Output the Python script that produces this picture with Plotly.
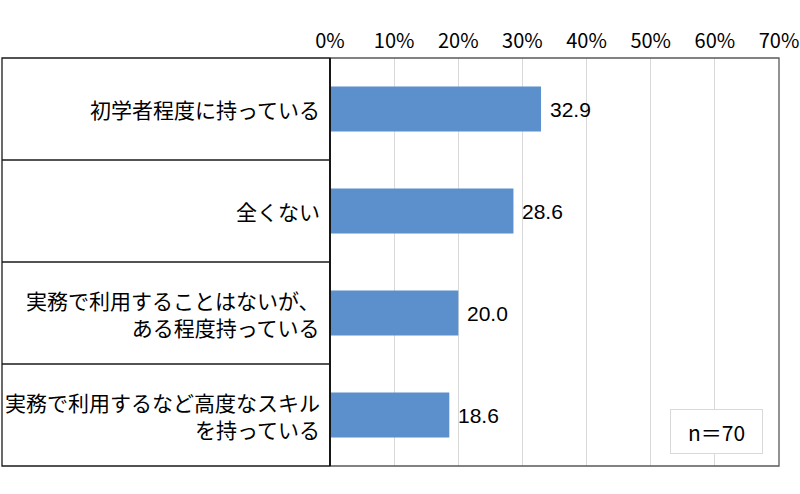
import plotly.graph_objects as go

categories = [
    "初学者程度に持っている",
    "全くない",
    "実務で利用することはないが、<br>ある程度持っている",
    "実務で利用するなど高度なスキル<br>を持っている",
]
values = [32.9, 28.6, 20.0, 18.6]
tick_vals = [0, 10, 20, 30, 40, 50, 60, 70]
tick_text = ["0%", "10%", "20%", "30%", "40%", "50%", "60%", "70%"]
note = "n＝70"

BAR = "#5B90CD"
JP = "Noto Sans CJK JP"

fig = go.Figure()
fig.add_trace(go.Bar(
    x=values, y=categories, orientation="h",
    marker=dict(color=BAR, line=dict(width=0)),
    width=0.44, hoverinfo="skip",
))

annotations = []
for c, v in zip(categories, values):
    annotations.append(dict(
        x=v, y=c, xref="x", yref="y", text=f"{v:.1f}", showarrow=False,
        xanchor="left", yanchor="middle", xshift=7,
        font=dict(family="Liberation Sans, Arial", size=21, color="#000000"),
    ))
    annotations.append(dict(
        x=0, y=c, xref="paper", yref="y", text=c, showarrow=False,
        xanchor="right", yanchor="middle", align="right", xshift=-8,
        font=dict(family=JP, size=21, color="#000000"),
    ))
annotations.append(dict(
    x=0.861, y=0.0846, xref="paper", yref="paper", text=note, showarrow=False,
    xanchor="center", yanchor="middle",
    font=dict(family=JP, size=21, color="#000000"),
    bordercolor="#d9d9d9", borderwidth=1, bgcolor="white",
    width=89, height=41,
))

left = (2 - 330) / 449
shapes = [
    dict(type="rect", xref="paper", yref="paper", x0=left, x1=0, y0=0, y1=1,
         line=dict(color="#1a1a1a", width=1.3), layer="above"),
    dict(type="rect", xref="paper", yref="paper", x0=0, x1=1, y0=0, y1=1,
         line=dict(color="#595959", width=1.3), layer="above"),
    dict(type="line", xref="paper", yref="paper", x0=0, x1=0, y0=0, y1=1,
         line=dict(color="#000000", width=1.5), layer="above"),
]
for yb in [0.5, 1.5, 2.5]:
    shapes.append(dict(type="line", xref="paper", yref="y", x0=left, x1=0,
                       y0=yb, y1=yb, line=dict(color="#1a1a1a", width=1.3)))

fig.update_layout(
    width=800, height=494,
    margin=dict(l=330, r=21, t=58, b=28, autoexpand=False),
    paper_bgcolor="white", plot_bgcolor="white",
    showlegend=False,
    xaxis=dict(
        range=[0, 70], side="top", tickvals=tick_vals, ticktext=tick_text,
        showgrid=True, gridcolor="#d9d9d9", gridwidth=1, zeroline=False,
        showline=False, ticks="", ticklabelstandoff=5, ticklabeloverflow="allow",
        tickfont=dict(family=JP, size=20, color="#000000"),
        fixedrange=True, automargin=False,
    ),
    yaxis=dict(
        categoryorder="array", categoryarray=categories,
        autorange="reversed", showticklabels=False, showgrid=False,
        zeroline=False, showline=False, ticks="", fixedrange=True,
        automargin=False,
    ),
    annotations=annotations,
    shapes=shapes,
)

fig.write_html(
    "out.html",
    config={"displayModeBar": False},
    post_script="document.body.style.margin='0';document.body.style.overflow='hidden';",
)
